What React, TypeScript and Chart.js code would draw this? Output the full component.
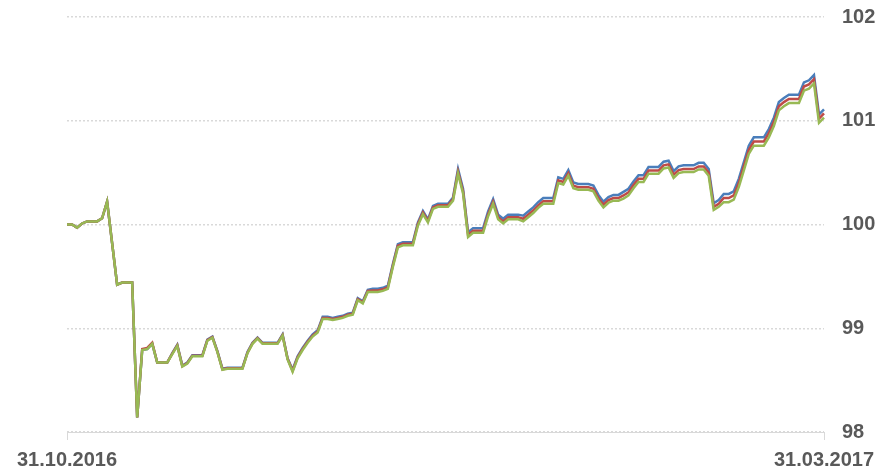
import React, { useEffect, useRef } from "react";
import { Chart, registerables } from "chart.js";

Chart.register(...registerables);

// Calendar days 31.10.2016 .. 31.03.2017 (152 days)
const startDay = { y: 2016, m: 9, d: 31 };
const dayCount = 152;
const categories: string[] = [];
for (let i = 0; i < dayCount; i++) {
  const dt = new Date(startDay.y, startDay.m, startDay.d + i);
  const dd = String(dt.getDate()).padStart(2, "0");
  const mm = String(dt.getMonth() + 1).padStart(2, "0");
  categories.push(`${dd}.${mm}.${dt.getFullYear()}`);
}

const tickLabels = ["31.10.2016", "31.03.2017"];
const yTicks = [98, 99, 100, 101, 102];

const seriesGreen = [
  100.0, 100.0, 99.97, 100.01, 100.03, 100.03, 100.03, 100.06, 100.22, 99.82,
  99.42, 99.44, 99.44, 99.44, 98.14, 98.79, 98.8, 98.85, 98.67, 98.67,
  98.67, 98.75, 98.83, 98.63, 98.66, 98.73, 98.73, 98.73, 98.88, 98.91,
  98.77, 98.6, 98.61, 98.61, 98.61, 98.61, 98.76, 98.85, 98.9, 98.85,
  98.85, 98.85, 98.85, 98.93, 98.7, 98.58, 98.71, 98.79, 98.86, 98.92,
  98.96, 99.09, 99.09, 99.08, 99.09, 99.1, 99.12, 99.13, 99.27, 99.24,
  99.35, 99.35, 99.35, 99.36, 99.38, 99.59, 99.78, 99.8, 99.8, 99.8,
  99.99, 100.1, 100.02, 100.15, 100.17, 100.17, 100.17, 100.23, 100.49, 100.3,
  99.88, 99.92, 99.92, 99.92, 100.08, 100.2, 100.05, 100.01, 100.05, 100.05,
  100.05, 100.03, 100.07, 100.11, 100.16, 100.2, 100.2, 100.2, 100.4, 100.385,
  100.47, 100.35, 100.335, 100.335, 100.335, 100.32, 100.23, 100.165, 100.21, 100.23,
  100.23, 100.25, 100.28, 100.35, 100.41, 100.41, 100.49, 100.49, 100.49, 100.54,
  100.55, 100.45, 100.495, 100.505, 100.505, 100.505, 100.53, 100.53, 100.47, 100.14,
  100.17, 100.215, 100.215, 100.24, 100.36, 100.52, 100.68, 100.76, 100.76, 100.76,
  100.84, 100.95, 101.1, 101.14, 101.17, 101.17, 101.17, 101.29, 101.31, 101.36,
  100.98, 101.03,
];

const seriesRed = [
  100.0, 100.0, 99.97, 100.01, 100.03, 100.03, 100.03, 100.06, 100.22, 99.82,
  99.42, 99.44, 99.44, 99.44, 98.14, 98.8, 98.81, 98.86, 98.67, 98.67,
  98.67, 98.755, 98.835, 98.635, 98.665, 98.735, 98.735, 98.735, 98.885, 98.915,
  98.775, 98.605, 98.615, 98.615, 98.615, 98.615, 98.765, 98.855, 98.905, 98.855,
  98.855, 98.855, 98.855, 98.935, 98.705, 98.59, 98.72, 98.8, 98.87, 98.93,
  98.97, 99.1, 99.1, 99.09, 99.1, 99.11, 99.13, 99.14, 99.28, 99.25,
  99.36, 99.365, 99.365, 99.375, 99.395, 99.605, 99.795, 99.815, 99.815, 99.815,
  100.005, 100.115, 100.035, 100.165, 100.185, 100.185, 100.185, 100.245, 100.51, 100.32,
  99.9, 99.94, 99.94, 99.94, 100.1, 100.22, 100.07, 100.03, 100.07, 100.07,
  100.07, 100.055, 100.095, 100.135, 100.185, 100.225, 100.225, 100.225, 100.425, 100.41,
  100.495, 100.375, 100.36, 100.36, 100.36, 100.345, 100.255, 100.19, 100.235, 100.255,
  100.255, 100.28, 100.31, 100.38, 100.44, 100.44, 100.52, 100.52, 100.52, 100.57,
  100.58, 100.48, 100.525, 100.535, 100.535, 100.535, 100.56, 100.56, 100.5, 100.17,
  100.2, 100.255, 100.255, 100.28, 100.4, 100.56, 100.72, 100.8, 100.8, 100.8,
  100.88, 100.99, 101.14, 101.18, 101.21, 101.21, 101.21, 101.33, 101.35, 101.4,
  101.02, 101.07,
];

const seriesBlue = [
  100.0, 100.0, 99.97, 100.01, 100.03, 100.03, 100.03, 100.06, 100.22, 99.82,
  99.42, 99.44, 99.44, 99.44, 98.14, 98.79, 98.8, 98.85, 98.67, 98.67,
  98.67, 98.76, 98.84, 98.64, 98.67, 98.74, 98.74, 98.74, 98.89, 98.92,
  98.78, 98.61, 98.62, 98.62, 98.62, 98.62, 98.77, 98.86, 98.91, 98.86,
  98.86, 98.86, 98.86, 98.94, 98.71, 98.6, 98.73, 98.81, 98.88, 98.94,
  98.98, 99.11, 99.11, 99.1, 99.11, 99.12, 99.14, 99.15, 99.29, 99.26,
  99.37, 99.38, 99.38, 99.39, 99.41, 99.62, 99.81, 99.83, 99.83, 99.83,
  100.02, 100.13, 100.05, 100.18, 100.2, 100.2, 100.2, 100.26, 100.535, 100.345,
  99.925, 99.965, 99.965, 99.965, 100.125, 100.245, 100.095, 100.055, 100.095, 100.095,
  100.095, 100.085, 100.125, 100.165, 100.215, 100.255, 100.255, 100.255, 100.455, 100.44,
  100.525, 100.405, 100.39, 100.39, 100.39, 100.375, 100.285, 100.22, 100.265, 100.285,
  100.285, 100.315, 100.345, 100.415, 100.475, 100.475, 100.555, 100.555, 100.555, 100.605,
  100.615, 100.515, 100.56, 100.57, 100.57, 100.57, 100.595, 100.595, 100.535, 100.205,
  100.235, 100.295, 100.295, 100.32, 100.44, 100.6, 100.76, 100.84, 100.84, 100.84,
  100.92, 101.03, 101.18, 101.22, 101.25, 101.25, 101.25, 101.37, 101.39, 101.44,
  101.06, 101.11,
];

const FONT = '"Liberation Sans", Arial, sans-serif';

export default function App() {
  const ref = useRef<HTMLCanvasElement | null>(null);

  useEffect(() => {
    if (!ref.current) return;
    const last = categories.length - 1;
    const chart = new Chart(ref.current, {
      type: "line",
      data: {
        labels: categories,
        datasets: [
          { label: "C", data: seriesGreen, borderColor: "#98b954", backgroundColor: "#98b954", borderWidth: 2.5, pointRadius: 0, tension: 0 },
          { label: "B", data: seriesRed, borderColor: "#be4b48", backgroundColor: "#be4b48", borderWidth: 2.5, pointRadius: 0, tension: 0 },
          { label: "A", data: seriesBlue, borderColor: "#4a7ebb", backgroundColor: "#4a7ebb", borderWidth: 2.5, pointRadius: 0, tension: 0 },
        ],
      },
      options: {
        animation: false,
        responsive: true,
        maintainAspectRatio: false,
        layout: { padding: { left: 67, right: 0, top: 17, bottom: 0 } },
        plugins: { legend: { display: false }, tooltip: { enabled: false } },
        scales: {
          x: {
            type: "category",
            offset: false,
            afterFit: (s: any) => {
              s.height = 37;
              s.paddingLeft = 0;
              s.paddingRight = 0;
            },
            grid: { drawOnChartArea: false, drawTicks: true, tickLength: 8, color: "#d9d9d9", lineWidth: 1 },
            border: { display: true, color: "#d9d9d9", width: 1 },
            ticks: {
              autoSkip: false,
              maxRotation: 0,
              minRotation: 0,
              padding: 10,
              color: "#595959",
              font: { family: FONT, size: 20, weight: "bold", lineHeight: 1 },
              callback: (_v: any, i: number) => (i === 0 ? tickLabels[0] : i === last ? tickLabels[1] : null),
            },
          },
          y: {
            position: "right",
            min: 98,
            max: 102,
            afterBuildTicks: (s: any) => {
              s.ticks = yTicks.map((v) => ({ value: v }));
            },
            afterFit: (s: any) => {
              s.width = 52;
              s.paddingTop = 0;
              s.paddingBottom = 0;
            },
            grid: { drawTicks: false, color: "#d9d9d9", lineWidth: 1.5 },
            border: { display: false, dash: [2, 2] },
            ticks: {
              padding: 18,
              color: "#595959",
              font: { family: FONT, size: 20, weight: "bold", lineHeight: 1 },
            },
          },
        },
      },
    });
    return () => chart.destroy();
  }, []);

  return (
    <div style={{ position: "absolute", left: 0, top: 0, width: 876, height: 469 }}>
      <canvas ref={ref} />
    </div>
  );
}
